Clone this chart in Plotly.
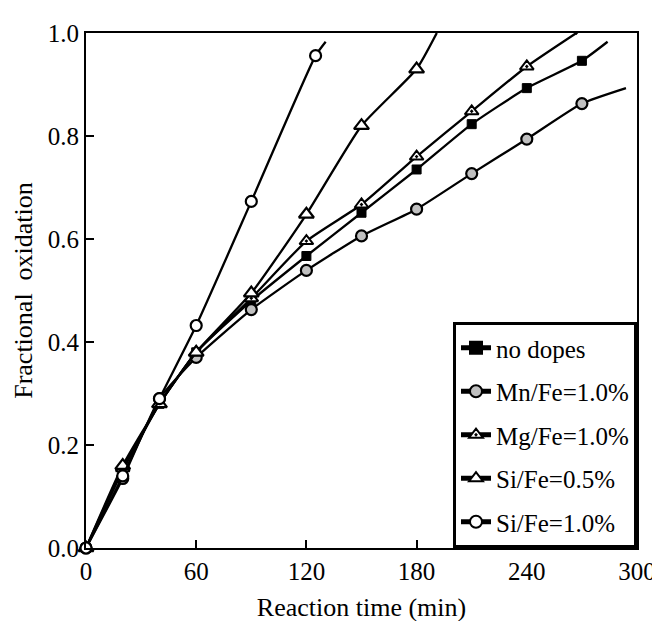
import plotly.graph_objects as go

# ---- data ----
no_dopes_t = [0, 20, 40, 60, 90, 120, 150, 180, 210, 240, 270, 284]
no_dopes_y = [0, 0.15, 0.28, 0.38, 0.48, 0.567, 0.651, 0.735, 0.823, 0.893, 0.946, 0.983]

mn_t = [0, 20, 40, 60, 90, 120, 150, 180, 210, 240, 270, 294]
mn_y = [0, 0.135, 0.29, 0.37, 0.463, 0.539, 0.606, 0.658, 0.727, 0.794, 0.863, 0.893]

mg_t = [0, 20, 40, 60, 90, 120, 150, 180, 210, 240, 267]
mg_y = [0, 0.155, 0.28, 0.38, 0.485, 0.596, 0.667, 0.76, 0.848, 0.935, 1.0]

si05_t = [0, 20, 40, 60, 90, 120, 150, 180, 191]
si05_y = [0, 0.16, 0.28, 0.38, 0.495, 0.648, 0.82, 0.93, 1.0]

si10_t = [0, 20, 40, 60, 90, 125, 130.5]
si10_y = [0, 0.14, 0.29, 0.432, 0.673, 0.956, 0.983]

series_names = ["no dopes", "Mn/Fe=1.0%", "Mg/Fe=1.0%", "Si/Fe=0.5%", "Si/Fe=1.0%"]
x_ticks = [0, 60, 120, 180, 240, 300]
y_ticks = [0.0, 0.2, 0.4, 0.6, 0.8, 1.0]

FONT = "Liberation Serif, Times New Roman, Times, serif"

styles = [
    dict(symbol="square", size=9, color="black", lc="black", lw=1),
    dict(symbol="circle", size=11, color="#c0c0c0", lc="black", lw=2.2),
    dict(symbol="triangle-up-dot", size=12, color="white", lc="black", lw=2),
    dict(symbol="triangle-up", size=13, color="white", lc="black", lw=2.2),
    dict(symbol="circle", size=11, color="white", lc="black", lw=2.2),
]
data = [(no_dopes_t, no_dopes_y), (mn_t, mn_y), (mg_t, mg_y),
        (si05_t, si05_y), (si10_t, si10_y)]

fig = go.Figure()
for i, ((t, y), name, st) in enumerate(zip(data, series_names, styles)):
    sizes = [st["size"]] * (len(t) - 1) + [0]
    fig.add_trace(go.Scatter(
        x=t, y=y, name=name, mode="lines+markers",
        legendgroup=f"g{i}",
        line=dict(color="black", width=2.3, shape="spline", smoothing=0.5),
        marker=dict(symbol=st["symbol"], size=sizes, color=st["color"], opacity=1,
                    line=dict(color=st["lc"], width=st["lw"])),
        cliponaxis=False,
    ))

fig.update_layout(
    width=660, height=621,
    margin=dict(l=78, r=21, t=20, b=76),
    paper_bgcolor="white", plot_bgcolor="white",
    font=dict(family=FONT, size=25, color="black"),
    showlegend=True,
    legend=dict(
        x=1, y=0, xanchor="right", yanchor="bottom",
        bgcolor="white", bordercolor="black", borderwidth=3,
        font=dict(family=FONT, size=25, color="black"),
        tracegroupgap=8, itemsizing="constant",
    ),
    xaxis=dict(
        range=[0, 300], tickvals=x_ticks, ticktext=[str(v) for v in x_ticks],
        showgrid=False, zeroline=False, showline=True, linecolor="black",
        linewidth=2, mirror=True, ticks="inside", ticklen=8, tickwidth=2,
        tickcolor="black", tickfont=dict(family=FONT, size=25),
        title=dict(text="Reaction time (min)", font=dict(family=FONT, size=26), standoff=14),
    ),
    yaxis=dict(
        range=[0, 1.0], tickvals=y_ticks, ticktext=[f"{v:.1f}" for v in y_ticks],
        showgrid=False, zeroline=False, showline=True, linecolor="black",
        linewidth=2, mirror=True, ticks="inside", ticklen=8, tickwidth=2,
        tickcolor="black", tickfont=dict(family=FONT, size=25),
        title=dict(text="Fractional  oxidation", font=dict(family=FONT, size=26), standoff=8),
    ),
)

fig.write_html("out.html")
